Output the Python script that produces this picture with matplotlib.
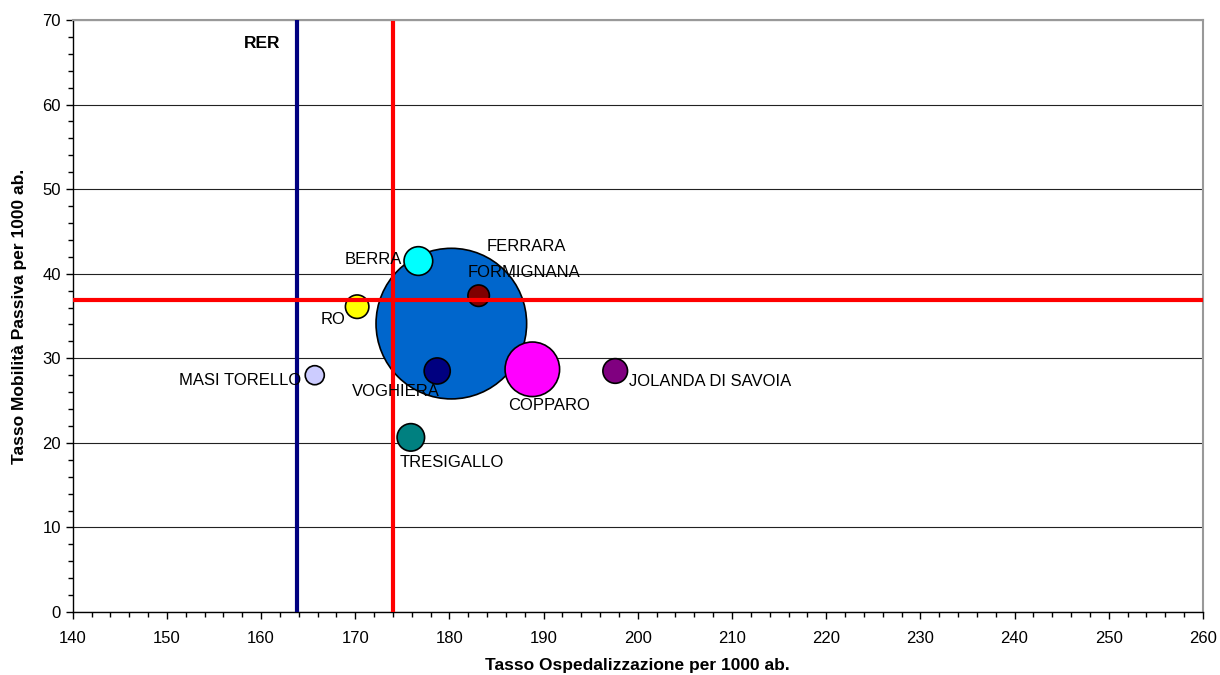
import numpy as np
import matplotlib
matplotlib.use('Agg')
import matplotlib.pyplot as plt
from matplotlib.ticker import MultipleLocator

plt.rcParams['font.family'] = ['Liberation Sans', 'DejaVu Sans']

# comuni del distretto
comuni = ['FERRARA', 'BERRA', 'FORMIGNANA', 'RO', 'MASI TORELLO',
          'VOGHIERA', 'COPPARO', 'TRESIGALLO', 'JOLANDA DI SAVOIA']
tasso_osp = [180.2, 176.7, 183.1, 170.2, 165.7, 178.7, 188.8, 175.9, 197.6]
tasso_mob = [34.1, 41.5, 37.4, 36.1, 28.0, 28.5, 28.7, 20.65, 28.5]
popolazione = [135000, 4900, 2740, 3280, 2160, 4050, 17700, 4500, 3620]
colori = ['#0066CC', '#00FFFF', '#800000', '#FFFF00', '#CCCCFF',
          '#000080', '#FF00FF', '#008080', '#800080']

rer_osp = 163.8
media_osp = 174.05
media_mob = 36.9

# label offsets in points (dx, dy, ha)
offs = [(54, 55.7, 'center'), (-11.7, 1, 'right'), (-8.1, 16.8, 'left'),
        (-8.1, -9.1, 'right'), (-9.9, -4.1, 'right'), (-61.2, -14.9, 'left'),
        (-17.1, -26.4, 'left'), (-8.2, -18.3, 'left'), (10.1, -7.7, 'left')]

fig = plt.figure(figsize=(12.2, 6.75), dpi=100)
ax = fig.add_axes([0.0596, 0.0933, 0.9264, 0.8771])

s = np.array(popolazione) * 0.0871
ax.scatter(tasso_osp, tasso_mob, s=s, c=colori, edgecolors='black',
           linewidths=1.2, zorder=3)

for i, nome in enumerate(comuni):
    dx, dy, ha = offs[i]
    ax.annotate(nome, (tasso_osp[i], tasso_mob[i]), xytext=(dx, dy),
                textcoords='offset points', ha=ha, va='center', fontsize=12,
                zorder=5)

ax.axvline(rer_osp, color='#000080', lw=3, zorder=4)
ax.plot([media_osp, media_osp], [0, 69.6], color='#FF0000', lw=3, zorder=4)
ax.axhline(media_mob, color='#FF0000', lw=3, zorder=4)
ax.text(rer_osp - 1.8, 67.2, 'RER', ha='right', va='center',
        fontsize=12.5, fontweight='bold')

ax.set_xlim(140, 260)
ax.set_ylim(0, 70)
ax.xaxis.set_major_locator(MultipleLocator(10))
ax.xaxis.set_minor_locator(MultipleLocator(2))
ax.yaxis.set_major_locator(MultipleLocator(10))
ax.yaxis.set_minor_locator(MultipleLocator(2))
ax.tick_params(which='major', length=5, width=1, labelsize=12, color='black')
ax.tick_params(which='minor', length=3.5, width=1, color='black')
ax.tick_params(axis='x', which='major', pad=8.5)
ax.grid(axis='y', which='major', color='#222222', lw=0.8)
ax.set_axisbelow(True)

for sp in ['top', 'right']:
    ax.spines[sp].set_color('#999999')
    ax.spines[sp].set_linewidth(1.5)
for sp in ['left', 'bottom']:
    ax.spines[sp].set_color('black')
    ax.spines[sp].set_linewidth(1)

ax.set_xlabel('Tasso Ospedalizzazione per 1000 ab.', fontsize=12.5,
              fontweight='bold', labelpad=9)
ax.set_ylabel('Tasso Mobilità Passiva per 1000 ab.', fontsize=12.5,
              fontweight='bold', labelpad=11)

fig.savefig('out.png', dpi=100)
